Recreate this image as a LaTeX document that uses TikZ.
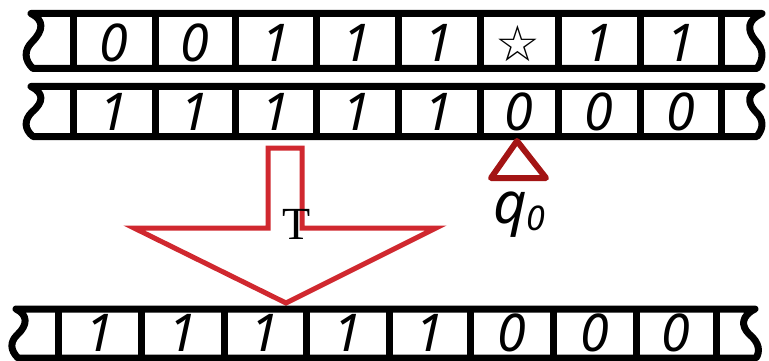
\documentclass[tikz,border=0pt]{standalone}
\usepackage{fontspec}
\setmainfont{Noto Sans}
\newfontfamily\symfont{DejaVu Sans}
\newfontfamily\seriffont{Liberation Serif}
\definecolor{arrowred}{HTML}{D0282F}
\definecolor{headred}{HTML}{A31414}
\begin{document}
\begin{tikzpicture}[x=1pt,y=-1pt,
  tapeline/.style={line width=7pt, line join=round},
  sym/.style={font=\fontsize{52}{52}\selectfont\itshape, inner sep=0pt},
  starsym/.style={font=\symfont\fontsize{50}{50}\selectfont, inner sep=0pt},
  arrowshape/.style={draw=arrowred, line width=5pt, line join=miter, fill=white},
  headshape/.style={draw=headred, line width=6pt, line join=round}]
\useasboundingbox (0,0) rectangle (769,361);

% ---------- tape 1 ----------
\draw[tapeline] (31,13.5) -- (762,13.5)
  .. controls (747,20) and (747,30) .. (755,40)
  .. controls (765,50) and (763,60) .. (757,68.5)
  -- (33,68.5)
  .. controls (24,60) and (24,50) .. (32,42)
  .. controls (44,30) and (44,20) .. (31,13.5) -- cycle;
\foreach \x in {73,155,235,316,398,480,558,640,721}
  \draw[tapeline] (\x,13.5) -- (\x,68.5);
\node[sym] (a1) at (114,43) {0};
\node[sym] (a2) at (195,43) {0};
\node[sym] (a3) at (275.5,43) {1};
\node[sym] (a4) at (357,43) {1};
\node[sym] (a5) at (439,43) {1};
\node[starsym] (a6) at (518,44) {☆};
\node[sym] (a7) at (599,43) {1};
\node[sym] (a8) at (680.5,43) {1};

% ---------- tape 2 ----------
\draw[tapeline] (31,86.5) -- (762,86.5)
  .. controls (747,93) and (747,102) .. (755,111)
  .. controls (765,120) and (763,129) .. (757,136.5)
  -- (33,136.5)
  .. controls (24,129) and (24,120) .. (32,112)
  .. controls (44,102) and (44,93) .. (31,86.5) -- cycle;
\foreach \x in {73,155,235,316,398,480,558,640,721}
  \draw[tapeline] (\x,86.5) -- (\x,136.5);
\node[sym] (b1) at (114,112) {1};
\node[sym] (b2) at (195,112) {1};
\node[sym] (b3) at (275.5,112) {1};
\node[sym] (b4) at (357,112) {1};
\node[sym] (b5) at (439,112) {1};
\node[sym] (b6) at (519,112) {0};
\node[sym] (b7) at (599,112) {0};
\node[sym] (b8) at (680.5,112) {0};

% ---------- head ----------
\draw[headshape] (517,141) -- (546,178) -- (491,178) -- cycle;
\node[anchor=base west, inner sep=0pt] (q) at (493,223)
  {\fontsize{58}{58}\selectfont\itshape q\raisebox{-7pt}{\fontsize{34}{34}\selectfont 0}};

% ---------- transition arrow ----------
\draw[arrowshape] (268,148) -- (302,148) -- (302,228) -- (436,228)
  -- (286,303) -- (134,228) -- (268,228) -- cycle;
\node[font=\seriffont\fontsize{46}{46}\selectfont, inner sep=0pt] (T) at (297,224) {T};

% ---------- tape 3 ----------
\draw[tapeline] (16,309) -- (755,309)
  .. controls (741,316) and (741,326) .. (749,334)
  .. controls (760,343) and (760,352) .. (756,358)
  -- (18,358)
  .. controls (10,350) and (10,342) .. (17,335)
  .. controls (28,325) and (28,315) .. (16,309) -- cycle;
\foreach \x in {58,141,224,306,389,470,553,636,716}
  \draw[tapeline] (\x,309) -- (\x,358);
\node[sym] (c1) at (99.5,333) {1};
\node[sym] (c2) at (182.5,333) {1};
\node[sym] (c3) at (265,333) {1};
\node[sym] (c4) at (347.5,333) {1};
\node[sym] (c5) at (429.5,333) {1};
\node[sym] (c6) at (511.5,333) {0};
\node[sym] (c7) at (594.5,333) {0};
\node[sym] (c8) at (676,333) {0};
\end{tikzpicture}
\end{document}
